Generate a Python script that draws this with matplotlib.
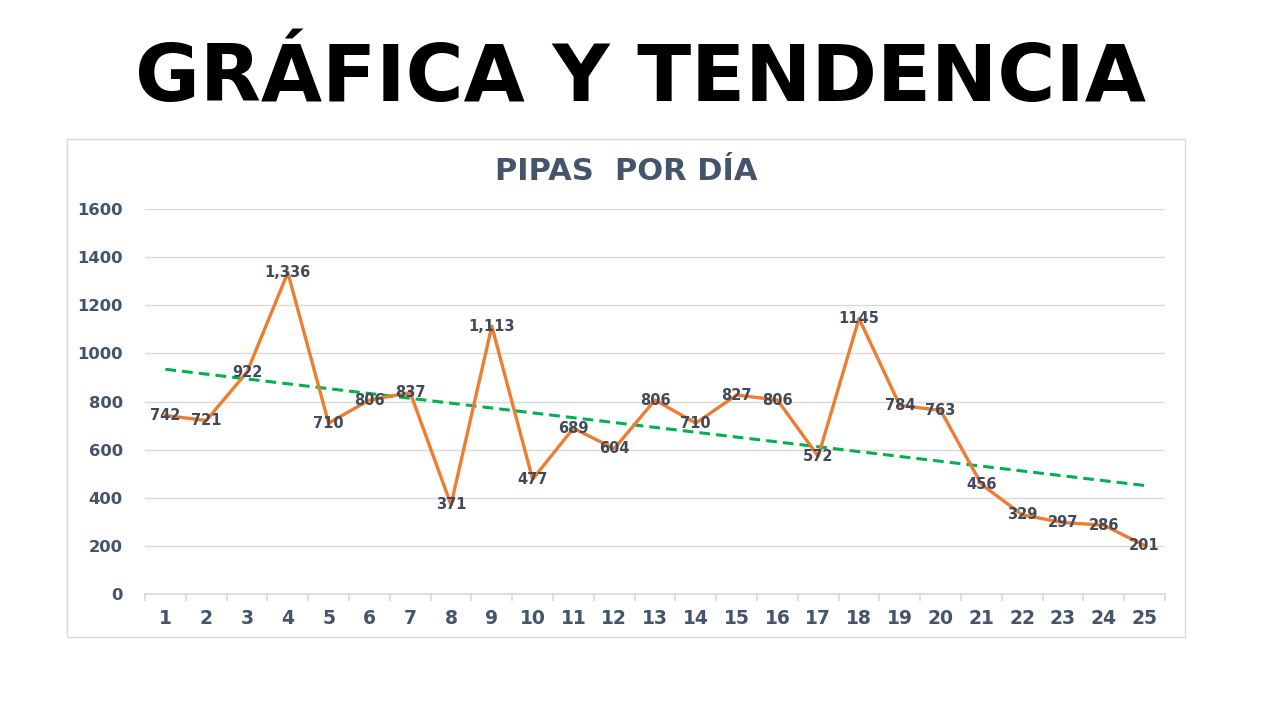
import matplotlib
matplotlib.use("Agg")
import matplotlib.pyplot as plt
import numpy as np
from matplotlib.patches import Rectangle
from matplotlib.ticker import FixedLocator

# datos de la grafica
dias = list(range(1, 26))
pipas = [742, 721, 922, 1336, 710, 806, 837, 371, 1113, 477, 689, 604, 806,
         710, 827, 806, 572, 1145, 784, 763, 456, 329, 297, 286, 201]
etiquetas = ["742", "721", "922", "1,336", "710", "806", "837", "371", "1,113",
             "477", "689", "604", "806", "710", "827", "806", "572", "1145",
             "784", "763", "456", "329", "297", "286", "201"]
y_ticks = [0, 200, 400, 600, 800, 1000, 1200, 1400, 1600]

AZUL = "#44546A"
NARANJA = "#ED7D31"
VERDE = "#00B050"
GRIS = "#D9D9D9"

fig = plt.figure(figsize=(12.8, 7.2), dpi=100)
fig.patch.set_facecolor("white")

# marco del grafico
fig.patches.append(Rectangle((67 / 1280, 1 - 637 / 720), (1185 - 67) / 1280, (637 - 139) / 720,
                             transform=fig.transFigure, fill=False, edgecolor=GRIS, linewidth=1))

fig.text(640.5 / 1280, 1 - 79 / 720, "GRÁFICA Y TENDENCIA", ha="center", va="center",
         fontsize=57, fontweight="bold", family="DejaVu Sans", color="black")
fig.text(626 / 1280, 1 - 172 / 720, "PIPAS  POR DÍA", ha="center", va="center",
         fontsize=22, fontweight="bold", family="DejaVu Sans", color=AZUL)

ax = fig.add_axes([145 / 1280, 1 - 594 / 720, 1020 / 1280, 385 / 720])

x = np.array(dias)
y = np.array(pipas)
ax.plot(x, y, color=NARANJA, linewidth=2.4, zorder=3)

# linea de tendencia (lineal)
m, b = np.polyfit(x, y, 1)
ax.plot(x, m * x + b, color=VERDE, linewidth=2.2, linestyle=(0, (3.5, 2)), zorder=2)

for xi, yi, t in zip(dias, pipas, etiquetas):
    ax.text(xi, yi, t, ha="center", va="center", fontsize=10.5, fontweight="bold",
            color="#404a5a", family="DejaVu Sans", zorder=4)

ax.set_xlim(0.5, 25.5)
ax.set_ylim(0, 1600)
ax.set_yticks(y_ticks)
ax.set_xticks(dias)
ax.xaxis.set_minor_locator(FixedLocator(np.arange(0.5, 26, 1)))
ax.grid(axis="y", color=GRIS, linewidth=1)
ax.set_axisbelow(True)

for s in ["top", "right", "left"]:
    ax.spines[s].set_visible(False)
ax.spines["bottom"].set_color(GRIS)
ax.spines["bottom"].set_linewidth(1.2)

ax.tick_params(axis="y", length=0, pad=16, labelsize=11.8, labelcolor=AZUL)
ax.tick_params(axis="x", which="major", length=0, pad=11, labelsize=13.5, labelcolor=AZUL)
ax.tick_params(axis="x", which="minor", length=5, color=GRIS, width=1.2)
for lab in ax.get_xticklabels() + ax.get_yticklabels():
    lab.set_fontweight("bold")
    lab.set_family("DejaVu Sans")

fig.savefig("out.png", dpi=100, facecolor="white")
